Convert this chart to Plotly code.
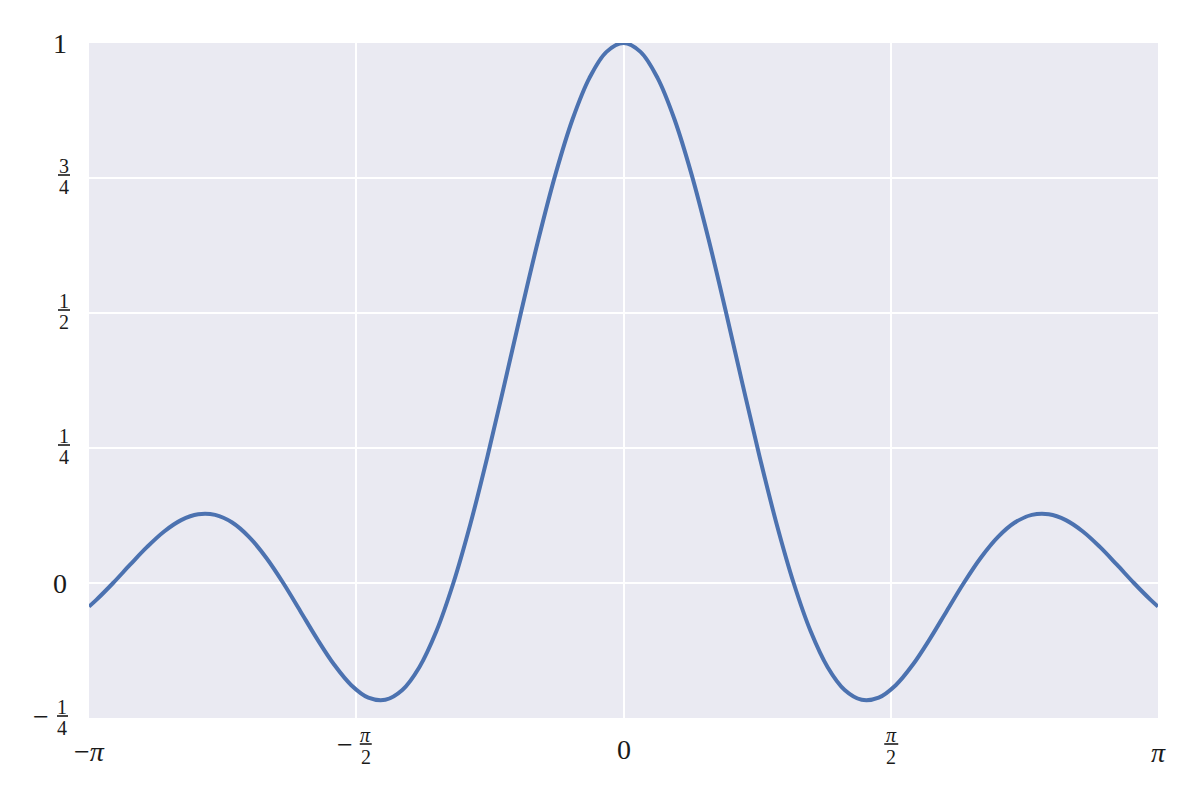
import plotly.graph_objects as go
import math

# Curve samples (x in radians, y value)
x_vals = [-3.1416, -3.1, -3.0, -2.9, -2.8, -2.7, -2.6, -2.5, -2.4, -2.3, -2.2, -2.1,
          -2.0, -1.9, -1.8, -1.7, -1.6, -1.5, -1.4, -1.3, -1.2, -1.1, -1.0, -0.9,
          -0.8, -0.7, -0.6, -0.5, -0.4, -0.3, -0.2, -0.1, 0.0,
          0.1, 0.2, 0.3, 0.4, 0.5, 0.6, 0.7, 0.8, 0.9, 1.0, 1.1, 1.2, 1.3, 1.4,
          1.5, 1.6, 1.7, 1.8, 1.9, 2.0, 2.1, 2.2, 2.3, 2.4, 2.5, 2.6, 2.7, 2.8,
          2.9, 3.0, 3.1, 3.1416]
y_vals = [-0.0436, -0.0317, 0.0, 0.0339, 0.0668, 0.0954, 0.1164, 0.1273, 0.1261, 0.1120, 0.0850, 0.0468,
          0.0, -0.0518, -0.1039, -0.1515, -0.1892, -0.2122, -0.2162, -0.1981, -0.1559, -0.0894, 0.0, 0.1093,
          0.2339, 0.3679, 0.5046, 0.6366, 0.7568, 0.8584, 0.9355, 0.9836, 1.0,
          0.9836, 0.9355, 0.8584, 0.7568, 0.6366, 0.5046, 0.3679, 0.2339, 0.1093, 0.0, -0.0894, -0.1559, -0.1981, -0.2162,
          -0.2122, -0.1892, -0.1515, -0.1039, -0.0518, 0.0, 0.0468, 0.0850, 0.1120, 0.1261, 0.1273, 0.1164, 0.0954, 0.0668,
          0.0339, 0.0, -0.0317, -0.0436]

x_ticks = [-math.pi, -math.pi / 2, 0, math.pi / 2, math.pi]
y_ticks = [-0.25, 0, 0.25, 0.5, 0.75, 1]
X_RANGE = [-math.pi, math.pi]
Y_RANGE = [-0.25, 1]

TEXT = "#1a1a1a"
FONT = "Liberation Serif"
BIG = 28
SMALL = 20

fig = go.Figure()
fig.add_trace(go.Scatter(x=x_vals, y=y_vals, mode="lines",
                         line=dict(color="#4C72B0", width=4, shape="spline"),
                         hoverinfo="skip", showlegend=False))

ann = []
shapes = []


def xfrac(v):
    return (v - X_RANGE[0]) / (X_RANGE[1] - X_RANGE[0])


def yfrac(v):
    return (v - Y_RANGE[0]) / (Y_RANGE[1] - Y_RANGE[0])


def text(xref, yref, x, y, t, xs, ys, size):
    ann.append(dict(xref=xref, yref=yref, x=x, y=y, text=t, showarrow=False,
                    xanchor="center", yanchor="middle", xshift=xs, yshift=ys,
                    font=dict(family=FONT, size=size, color=TEXT)))


def bar(xa, ya, x0, x1, yoff):
    shapes.append(dict(type="line", xref="paper", yref="paper",
                       xsizemode="pixel", ysizemode="pixel",
                       xanchor=xa, yanchor=ya, x0=x0, x1=x1, y0=yoff, y1=yoff,
                       line=dict(color=TEXT, width=1.6)))


# y-axis labels
text("paper", "y", 0, 1, "1", -29, 0, BIG)
text("paper", "y", 0, 0, "0", -29, 0, BIG)
for val, num, den in [(0.75, "3", "4"), (0.5, "1", "2"), (0.25, "1", "4")]:
    text("paper", "y", 0, val, num, -25, 12, SMALL)
    text("paper", "y", 0, val, den, -25, -8.5, SMALL)
    bar(0, yfrac(val), -31, -19, 3)
# -1/4
text("paper", "y", 0, -0.25, "\u2212", -48, 2, BIG)
text("paper", "y", 0, -0.25, "1", -27, 11, SMALL)
text("paper", "y", 0, -0.25, "4", -27, -9.5, SMALL)
bar(0, yfrac(-0.25), -32, -21, 2)

# x-axis labels
text("x", "paper", -math.pi, 0, "\u2212<i>\u03c0</i>", 0, -33, BIG)
text("x", "paper", 0, 0, "0", 0, -31, BIG)
text("x", "paper", math.pi, 0, "<i>\u03c0</i>", 0, -34, BIG)
# -pi/2
text("x", "paper", -math.pi / 2, 0, "\u2212", -11.5, -26, BIG)
text("x", "paper", -math.pi / 2, 0, "<i>\u03c0</i>", 9.5, -17, SMALL)
text("x", "paper", -math.pi / 2, 0, "2", 9.5, -38.5, SMALL)
bar(xfrac(-math.pi / 2), 0, 3.5, 15.5, -26)
# pi/2
text("x", "paper", math.pi / 2, 0, "<i>\u03c0</i>", 0.5, -17, SMALL)
text("x", "paper", math.pi / 2, 0, "2", 0.5, -38.5, SMALL)
bar(xfrac(math.pi / 2), 0, -6.5, 7.5, -26)

fig.update_layout(
    width=1192, height=792,
    margin=dict(l=81, r=42, t=35, b=82),
    paper_bgcolor="white", plot_bgcolor="#EAEAF2",
    annotations=ann, shapes=shapes,
    xaxis=dict(range=X_RANGE, tickvals=x_ticks, showticklabels=False,
               showgrid=True, gridcolor="white", gridwidth=2, zeroline=False,
               showline=False, ticks=""),
    yaxis=dict(range=Y_RANGE, tickvals=y_ticks, showticklabels=False,
               showgrid=True, gridcolor="white", gridwidth=2, zeroline=False,
               showline=False, ticks=""),
)

fig.write_html("out.html")
